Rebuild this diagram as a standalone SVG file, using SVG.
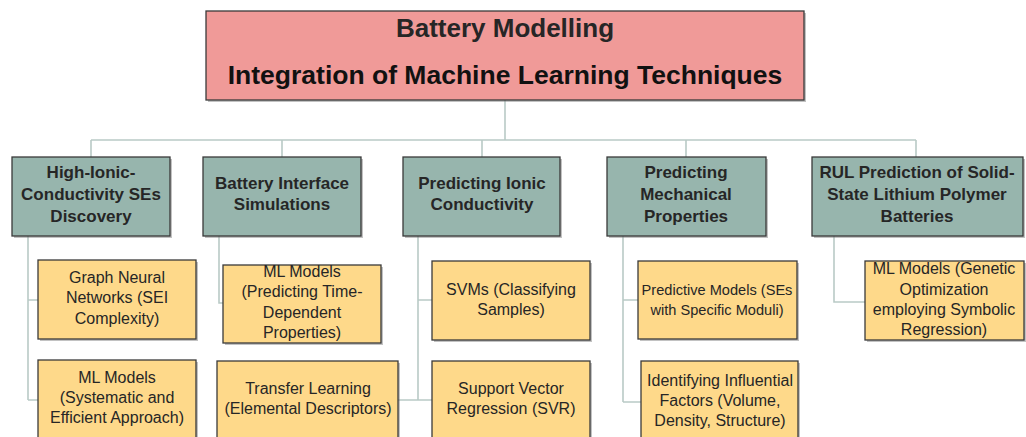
<svg xmlns="http://www.w3.org/2000/svg" width="1026" height="437" viewBox="0 0 1026 437">
<style>
.root{fill:#f09a98;stroke:#3a3a3a;stroke-width:1.3}
.l1{fill:#97b5ad;stroke:#3a3a3a;stroke-width:1.3}
.l2{fill:#fed98a;stroke:#3a3a3a;stroke-width:1.3}
.sh{fill:#777;opacity:0.45}
.con{fill:none;stroke:#b9cac6;stroke-width:1.6}
text{font-family:"Liberation Sans","DejaVu Sans",sans-serif;fill:#262626;text-anchor:middle}
.t0{font-size:26px;font-weight:bold}
.t00{font-size:26.5px;font-weight:bold;fill:#111}
.t1{font-size:17px;font-weight:bold}
.t2{font-size:16px}
.t2s{font-size:14.6px}
</style>
<rect width="1026" height="437" fill="#ffffff"/>
<g id="connectors">
<path class="con" d="M505,100 V140 M91,140 H916 M91,140 V157 M282,140 V157 M482,140 V157 M686,140 V157 M916,140 V157"/>
<path class="con" d="M28,236 V400 M28,300 H38 M28,400 H38"/>
<path class="con" d="M219,236 V303 H223"/>
<path class="con" d="M418,236 V400 M418,300 H432 M398,400 H432"/>
<path class="con" d="M623,236 V402 M623,300 H638 M623,402 H641"/>
<path class="con" d="M834,236 V302 H865"/>
</g>
<g id="root">
<rect class="sh" x="208" y="13" width="598" height="89"/>
<rect class="root" x="206" y="11" width="598" height="89"/>
<text class="t0" x="505" y="37">Battery Modelling</text>
<text class="t00" x="505" y="84">Integration of Machine Learning Techniques</text>
</g>
<g id="n1">
<rect class="sh" x="14" y="159" width="158" height="79"/>
<rect class="l1" x="12" y="157" width="158" height="79"/>
<text class="t1" x="91" y="178">High-Ionic-</text>
<text class="t1" x="91" y="200">Conductivity SEs</text>
<text class="t1" x="91" y="222">Discovery</text>
</g>
<g id="n2">
<rect class="sh" x="205" y="159" width="158" height="79"/>
<rect class="l1" x="203" y="157" width="158" height="79"/>
<text class="t1" x="282" y="189">Battery Interface</text>
<text class="t1" x="282" y="210">Simulations</text>
</g>
<g id="n3">
<rect class="sh" x="405" y="159" width="157" height="79"/>
<rect class="l1" x="403" y="157" width="157" height="79"/>
<text class="t1" x="482" y="189">Predicting Ionic</text>
<text class="t1" x="482" y="210">Conductivity</text>
</g>
<g id="n4">
<rect class="sh" x="609" y="159" width="159" height="79"/>
<rect class="l1" x="607" y="157" width="159" height="79"/>
<text class="t1" x="686" y="178">Predicting</text>
<text class="t1" x="686" y="200">Mechanical</text>
<text class="t1" x="686" y="222">Properties</text>
</g>
<g id="n5">
<rect class="sh" x="814" y="159" width="211" height="79"/>
<rect class="l1" x="812" y="157" width="211" height="79"/>
<text class="t1" x="917" y="178">RUL Prediction of Solid-</text>
<text class="t1" x="917" y="200">State Lithium Polymer</text>
<text class="t1" x="917" y="222">Batteries</text>
</g>
<g id="n1a">
<rect class="sh" x="40" y="262" width="158" height="79"/>
<rect class="l2" x="38" y="260" width="158" height="79"/>
<text class="t2" x="117" y="283">Graph Neural</text>
<text class="t2" x="117" y="303">Networks (SEI</text>
<text class="t2" x="117" y="324">Complexity)</text>
</g>
<g id="n1b">
<rect class="sh" x="40" y="362" width="158" height="79"/>
<rect class="l2" x="38" y="360" width="158" height="79"/>
<text class="t2" x="117" y="383">ML Models</text>
<text class="t2" x="117" y="403">(Systematic and</text>
<text class="t2" x="117" y="423">Efficient Approach)</text>
</g>
<g id="n2a">
<rect class="sh" x="225" y="267" width="158" height="78"/>
<rect class="l2" x="223" y="265" width="158" height="78"/>
<text class="t2" x="302" y="277">ML Models</text>
<text class="t2" x="302" y="297">(Predicting Time-</text>
<text class="t2" x="302" y="318">Dependent</text>
<text class="t2" x="302" y="338">Properties)</text>
</g>
<g id="n2b">
<rect class="sh" x="219" y="363" width="181" height="79"/>
<rect class="l2" x="217" y="361" width="181" height="79"/>
<text class="t2" x="308" y="394">Transfer Learning</text>
<text class="t2" x="308" y="414">(Elemental Descriptors)</text>
</g>
<g id="n3a">
<rect class="sh" x="434" y="263" width="158" height="79"/>
<rect class="l2" x="432" y="261" width="158" height="79"/>
<text class="t2" x="511" y="295">SVMs (Classifying</text>
<text class="t2" x="511" y="315">Samples)</text>
</g>
<g id="n3b">
<rect class="sh" x="434" y="363" width="158" height="79"/>
<rect class="l2" x="432" y="361" width="158" height="79"/>
<text class="t2" x="511" y="394">Support Vector</text>
<text class="t2" x="511" y="414">Regression (SVR)</text>
</g>
<g id="n4a">
<rect class="sh" x="640" y="263" width="159" height="78"/>
<rect class="l2" x="638" y="261" width="159" height="78"/>
<text class="t2s" x="717" y="295">Predictive Models (SEs</text>
<text class="t2s" x="717" y="315">with Specific Moduli)</text>
</g>
<g id="n4b">
<rect class="sh" x="643" y="363" width="157" height="79"/>
<rect class="l2" x="641" y="361" width="157" height="79"/>
<text class="t2" x="720" y="386">Identifying Influential</text>
<text class="t2" x="720" y="406">Factors (Volume,</text>
<text class="t2" x="720" y="426">Density, Structure)</text>
</g>
<g id="n5a">
<rect class="sh" x="867" y="263" width="159" height="79"/>
<rect class="l2" x="865" y="261" width="159" height="79"/>
<text class="t2" x="944" y="274">ML Models (Genetic</text>
<text class="t2" x="944" y="295">Optimization</text>
<text class="t2" x="944" y="315">employing Symbolic</text>
<text class="t2" x="944" y="335">Regression)</text>
</g>
</svg>
